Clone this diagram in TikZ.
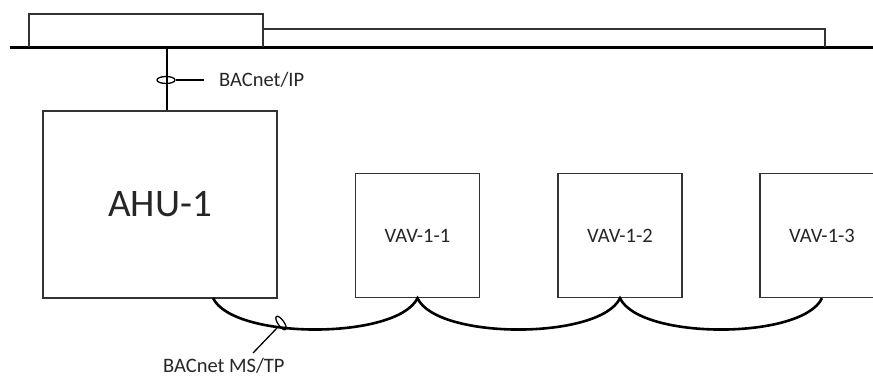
\documentclass[tikz,border=0pt]{standalone}
\usepackage{fontspec}
\setmainfont{Carlito}
\usetikzlibrary{shapes.geometric}
\begin{document}
\begin{tikzpicture}[x=1pt,y=-1pt,
  box/.style={draw=black!80,line width=1.4pt,minimum width=124pt,minimum height=124pt,inner sep=0pt,font=\fontsize{20.5}{24}\selectfont,text=black!85},
  lbl/.style={inner sep=0pt,font=\fontsize{20.5}{24}\selectfont,text=black!85},
  wire/.style={line width=2.6pt,black},
  thin/.style={line width=1.3pt,black!80}]
\useasboundingbox (0,0) rectangle (873,377);
\clip (0,0) rectangle (873,377);
% bus
\coordinate (busL) at (10,48);
\coordinate (busR) at (873,48);
\draw[line width=3pt] (busL) -- (busR);
% top brackets
\draw[thin] (29,47) |- (263,14) -- (263,47);
\draw[thin] (263,29) -| (825,47);
% nodes
\node[box,minimum width=234pt,minimum height=187pt,font=\fontsize{39}{46}\selectfont] (ahu) at (160,204.5) {AHU-1};
\node[box] (v1) at (417.5,235.5) {VAV-1-1};
\node[box] (v2) at (620,235.5) {VAV-1-2};
\node[box] (v3) at (822,235.5) {VAV-1-3};
% IP drop
\coordinate (tap) at (167,48);
\draw[wire] (tap) -- (tap |- ahu.north);
\node[draw,line width=1.3pt,ellipse,minimum width=18pt,minimum height=7pt,inner sep=0pt] (ipmark) at (166,80) {};
\node[lbl,anchor=base west] (iplbl) at (219,87) {BACnet/IP};
\coordinate (ipend) at (204,80);
\draw[thin,black] (ipmark.east) -- (ipend);
% MS/TP trunk
\coordinate (m0) at (213,298);
\coordinate (m1) at (v1.south);
\coordinate (m2) at (v2.south);
\coordinate (m3) at (v3.south);
\draw[wire] (m0) .. controls (233,340) and (397,340) .. (m1)
            .. controls (437,340) and (600,340) .. (m2)
            .. controls (640,340) and (802,340) .. (m3);
\node[draw,line width=1.3pt,ellipse,minimum width=16pt,minimum height=6pt,inner sep=0pt,rotate=-55] (msmark) at (281,323) {};
\coordinate (msend) at (253,353);
\draw[thin,black] (msmark.center) ++(-4,5) -- (msend);
\node[lbl,anchor=base west] (mslbl) at (163,372) {BACnet MS/TP};
\end{tikzpicture}
\end{document}
